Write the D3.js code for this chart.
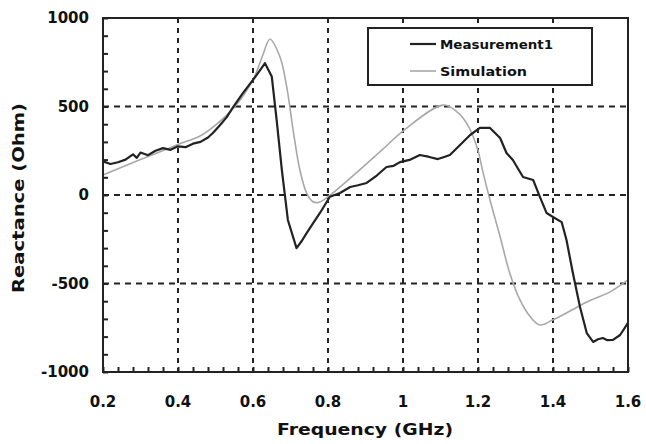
<!DOCTYPE html>
<html>
<head>
<script src="https://cdn.jsdelivr.net/npm/d3@7/dist/d3.min.js"></script>
<style>
  html, body { margin: 0; padding: 0; background: #fff; }
  svg text { font-family: "DejaVu Sans", sans-serif; font-weight: bold; fill: #111; }
</style>
</head>
<body>
<div id="chart"></div>
<script>
// values
var xTicks = [0.2, 0.4, 0.6, 0.8, 1.0, 1.2, 1.4, 1.6];
var xTickLabels = ["0.2", "0.4", "0.6", "0.8", "1", "1.2", "1.4", "1.6"];
var yTicks = [-1000, -500, 0, 500, 1000];

var measFreq = [0.2, 0.22, 0.24, 0.26, 0.28, 0.29, 0.3, 0.32, 0.34, 0.36, 0.38, 0.4, 0.42, 0.44, 0.46,
  0.48, 0.493, 0.51, 0.53, 0.547, 0.573, 0.6, 0.619, 0.632, 0.65, 0.663, 0.677, 0.693, 0.716,
  0.73, 0.743, 0.76, 0.779, 0.805, 0.832, 0.859, 0.88, 0.903, 0.93, 0.956, 0.975, 0.992, 1.02,
  1.045, 1.07, 1.093, 1.11, 1.125, 1.152, 1.179, 1.205, 1.232, 1.259, 1.276, 1.293, 1.32, 1.347,
  1.365, 1.383, 1.4, 1.423, 1.436, 1.453, 1.472, 1.49, 1.507, 1.52, 1.533, 1.545, 1.56, 1.579, 1.6];
var measX = [190, 175, 185, 200, 230, 210, 240, 225, 250, 265, 255, 275, 270, 290, 300,
  325, 350, 390, 440, 497, 576, 650, 706, 745, 670, 424, 141, -141, -300,
  -260, -215, -160, -100, -10, 11, 45, 55, 68, 110, 158, 165, 186, 200,
  226, 215, 203, 215, 226, 282, 339, 379, 379, 322, 237, 198, 102, 85,
  -11, -102, -124, -153, -254, -441, -633, -780, -830, -815, -808, -820, -819, -791, -723];

var simFreq = [0.2, 0.3, 0.4, 0.46, 0.5, 0.55, 0.6, 0.627, 0.645, 0.672, 0.69, 0.707, 0.725,
  0.743, 0.76, 0.775, 0.8, 0.939, 1.003, 1.107, 1.144, 1.17, 1.197, 1.214, 1.232, 1.259, 1.285,
  1.312, 1.339, 1.365, 1.4, 1.45, 1.5, 1.55, 1.6];
var simX = [113, 200, 285, 335, 395, 495, 650, 795, 880, 780, 610, 367, 141,
  11, -38, -42, -10, 245, 367, 508, 470, 405, 273, 122, -28, -236, -443,
  -593, -687, -734, -705, -650, -595, -550, -480];

var width = 646, height = 444;
var plotL = 103, plotR = 628, plotT = 18, plotB = 372;

var svg = d3.select("#chart").append("svg")
  .attr("width", width).attr("height", height);

var x = d3.scaleLinear().domain([0.2, 1.6]).range([plotL, plotR]);
var y = d3.scaleLinear().domain([-1000, 1000]).range([plotB, plotT]);

// grid
svg.append("g").selectAll("line")
  .data(xTicks.slice(1, -1)).enter().append("line")
  .attr("x1", function (d) { return x(d); }).attr("x2", function (d) { return x(d); })
  .attr("y1", plotT).attr("y2", plotB)
  .attr("stroke", "#222").attr("stroke-width", 2).attr("stroke-dasharray", "5,5");
svg.append("g").selectAll("line")
  .data(yTicks.slice(1, -1)).enter().append("line")
  .attr("y1", function (d) { return y(d); }).attr("y2", function (d) { return y(d); })
  .attr("x1", plotL).attr("x2", plotR)
  .attr("stroke", "#222").attr("stroke-width", 2).attr("stroke-dasharray", "6,5");

// minor ticks, pointing inward
var xAxis = d3.axisBottom(x).tickValues(d3.range(0.2, 1.6001, 0.04))
  .tickSize(-5).tickFormat("");
svg.append("g").attr("transform", "translate(0," + plotB + ")").call(xAxis)
  .call(function (g) { g.select(".domain").remove(); })
  .selectAll("line").attr("stroke", "#222").attr("stroke-width", 2);
var yAxis = d3.axisLeft(y).tickValues(d3.range(-1000, 1001, 100))
  .tickSize(-5).tickFormat("");
svg.append("g").attr("transform", "translate(" + plotL + ",0)").call(yAxis)
  .call(function (g) { g.select(".domain").remove(); })
  .selectAll("line").attr("stroke", "#222").attr("stroke-width", 2);

// tick labels
svg.append("g").selectAll("text")
  .data(xTicks).enter().append("text")
  .attr("x", function (d) { return x(d); }).attr("y", 407)
  .attr("text-anchor", "middle").attr("font-size", 15)
  .text(function (d, i) { return xTickLabels[i]; });
svg.append("g").selectAll("text")
  .data(yTicks).enter().append("text")
  .attr("x", 89).attr("y", function (d) { return y(d) + 5; })
  .attr("text-anchor", "end").attr("font-size", 15)
  .text(function (d) { return d; });

// titles
svg.append("text").attr("x", 365).attr("y", 435)
  .attr("text-anchor", "middle").attr("font-size", 16)
  .attr("textLength", 176).attr("lengthAdjust", "spacingAndGlyphs")
  .text("Frequency (GHz)");
svg.append("text").attr("transform", "translate(24,198) rotate(-90)")
  .attr("text-anchor", "middle").attr("font-size", 16)
  .attr("textLength", 190).attr("lengthAdjust", "spacingAndGlyphs")
  .text("Reactance (Ohm)");

// curves
var simLine = d3.line()
  .x(function (d, i) { return x(simFreq[i]); })
  .y(function (d) { return y(d); })
  .curve(d3.curveCatmullRom);
var measLine = d3.line()
  .x(function (d, i) { return x(measFreq[i]); })
  .y(function (d) { return y(d); });

svg.append("path").datum(simX).attr("d", simLine)
  .attr("fill", "none").attr("stroke", "#a8a8a8").attr("stroke-width", 1.6);
svg.append("path").datum(measX).attr("d", measLine)
  .attr("fill", "none").attr("stroke", "#222").attr("stroke-width", 2.2)
  .attr("stroke-linejoin", "round");

// frame
svg.append("rect").attr("x", plotL).attr("y", plotT)
  .attr("width", plotR - plotL).attr("height", plotB - plotT)
  .attr("fill", "none").attr("stroke", "#222").attr("stroke-width", 2);

// legend
var lg = svg.append("g");
lg.append("rect").attr("x", 368).attr("y", 28).attr("width", 224).attr("height", 57)
  .attr("fill", "#fff").attr("stroke", "#222").attr("stroke-width", 2);
var legendItems = [
  { name: "Measurement1", color: "#222", w: 2.2, len: 113 },
  { name: "Simulation", color: "#a8a8a8", w: 1.6, len: 87 }
];
legendItems.forEach(function (it, i) {
  var ly = 44 + i * 27;
  lg.append("line").attr("x1", 410).attr("x2", 436).attr("y1", ly).attr("y2", ly)
    .attr("stroke", it.color).attr("stroke-width", it.w);
  lg.append("text").attr("x", 440).attr("y", ly + 5).attr("font-size", 13)
    .attr("textLength", it.len).attr("lengthAdjust", "spacingAndGlyphs")
    .text(it.name);
});
</script>
</body>
</html>
